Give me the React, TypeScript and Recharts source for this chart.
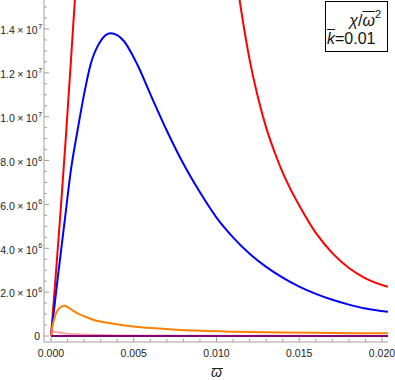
import React from 'react';
import { Line, LineChart, XAxis, YAxis } from 'recharts';

// plot window (omega-bar, chi in units of 1e6)
const X_DOMAIN: [number, number] = [-0.000423, 0.020362];
const Y_DOMAIN: [number, number] = [-0.2736, 15.32];

const xTicks = [
  0, 0.001, 0.002, 0.003, 0.004, 0.005, 0.006, 0.007, 0.008, 0.009, 0.01,
  0.011, 0.012, 0.013, 0.014, 0.015, 0.016, 0.017, 0.018, 0.019, 0.02,
];
const xMajor = [0, 0.005, 0.01, 0.015, 0.02];
const xLabels = ['0.000', '0.005', '0.010', '0.015', '0.020'];

const yTicks = [
  0, 0.5, 1, 1.5, 2, 2.5, 3, 3.5, 4, 4.5, 5, 5.5, 6, 6.5, 7, 7.5, 8, 8.5, 9,
  9.5, 10, 10.5, 11, 11.5, 12, 12.5, 13, 13.5, 14, 14.5, 15,
];
const yMajor = [0, 2, 4, 6, 8, 10, 12, 14];
const yMantissa = ['0', '2.0', '4.0', '6.0', '8.0', '1.0', '1.2', '1.4'];
const yExponent = ['', '6', '6', '6', '6', '7', '7', '7'];

// red
const redW = [
  0, 0.0003, 0.0006, 0.0009, 0.0012, 0.0015, 0.002, 0.003, 0.004, 0.005, 0.006,
  0.007, 0.008, 0.009, 0.01, 0.0105, 0.011, 0.01146, 0.012, 0.0125, 0.013,
  0.0135, 0.014, 0.0145, 0.015, 0.016, 0.017, 0.018, 0.019, 0.02036,
];
const redV = [
  0, 2.9, 5.9, 9.1, 12.5, 16.0, 21.5, 30, 36, 39, 39, 37, 33, 28, 22.8, 20.0,
  17.4, 15.0, 12.6, 10.9, 9.5, 8.4, 7.45, 6.65, 5.95, 4.7, 3.78, 3.1, 2.63, 2.24,
];

// blue
const blueW = [
  0, 0.0004, 0.00083, 0.0012, 0.0016, 0.002, 0.0024, 0.003, 0.0036, 0.0044,
  0.0052, 0.006, 0.007, 0.008, 0.009, 0.01, 0.011, 0.012, 0.013, 0.014, 0.015,
  0.016, 0.017, 0.018, 0.019, 0.02036,
];
const blueV = [
  0, 2.6, 5.27, 7.55, 9.36, 11.03, 12.4, 13.45, 13.8, 13.45, 12.4, 11.03, 9.36,
  7.85, 6.55, 5.4, 4.5, 3.75, 3.15, 2.66, 2.25, 1.92, 1.65, 1.43, 1.25, 1.1,
];

// orange
const orangeW = [
  0, 0.00005, 0.00015, 0.0003, 0.0005, 0.0008, 0.0012, 0.0016, 0.002, 0.0026,
  0.0036, 0.0046, 0.0056, 0.0066, 0.0076, 0.009, 0.0102, 0.011, 0.012, 0.014,
  0.016, 0.018, 0.02036,
];
const orangeV = [
  0, 0.3, 0.65, 1.02, 1.27, 1.38, 1.22, 1.03, 0.9, 0.73, 0.58, 0.47, 0.39, 0.34,
  0.29, 0.245, 0.215, 0.198, 0.182, 0.16, 0.143, 0.13, 0.12,
];

// pink
const pinkW = [0, 0.0001, 0.00018, 0.0004, 0.0008, 0.0016, 0.003, 0.005, 0.008, 0.012, 0.02036];
const pinkV = [0, 0.15, 0.2, 0.17, 0.12, 0.077, 0.045, 0.025, 0.014, 0.009, 0.005];

// purple
const purpleW = [0, 0.005, 0.01, 0.015, 0.02036];
const purpleV = [0, 0, 0, 0, 0];

const toRows = (w: number[], v: number[]) => w.map((x, i) => ({ w: x, v: v[i] }));

const FRAME = '#a0a0a0';
const INK = '#222';
const FONT = '"Liberation Sans", Arial, sans-serif';

const findMajor = (list: number[], v: number) => list.findIndex((m) => Math.abs(m - v) < 1e-9);

function BottomTick(props: any) {
  const { x, y, payload } = props;
  const k = findMajor(xMajor, payload.value);
  return (
    <g>
      <line x1={x} x2={x} y1={y} y2={y - (k >= 0 ? 5 : 3)} stroke={FRAME} />
      {k >= 0 && (
        <text x={x} y={y + 15} textAnchor="middle" fontSize={10.5} fontFamily={FONT} fill={INK}>
          {xLabels[k]}
        </text>
      )}
    </g>
  );
}

function TopTick(props: any) {
  const { x, y, payload } = props;
  const k = findMajor(xMajor, payload.value);
  return <line x1={x} x2={x} y1={y} y2={y + (k >= 0 ? 5 : 3)} stroke={FRAME} />;
}

function LeftTick(props: any) {
  const { x, y, payload } = props;
  const k = findMajor(yMajor, payload.value);
  return (
    <g>
      <line x1={x} x2={x + (k >= 0 ? 5 : 3)} y1={y} y2={y} stroke={FRAME} />
      {k >= 0 && yExponent[k] === '' && (
        <text x={x - 4} y={y + 4} textAnchor="end" fontSize={10.5} fontFamily={FONT} fill={INK}>
          {yMantissa[k]}
        </text>
      )}
      {k >= 0 && yExponent[k] !== '' && (
        <g fontFamily={FONT} fill={INK}>
          <text x={x - 6.3} y={y + 5.3} textAnchor="end" fontSize={10.5}>
            {yMantissa[k]}
            <tspan dx={2.5}>×</tspan>
            <tspan dx={2.5}>10</tspan>
          </text>
          <text x={x - 5.8} y={y} fontSize={7}>
            {yExponent[k]}
          </text>
        </g>
      )}
    </g>
  );
}

function RightTick(props: any) {
  const { x, y, payload } = props;
  const k = findMajor(yMajor, payload.value);
  return <line x1={x} x2={x - (k >= 0 ? 5 : 3)} y1={y} y2={y} stroke={FRAME} />;
}

const series = [
  { key: 'red', rows: toRows(redW, redV), color: '#ff0000', opacity: 1 },
  { key: 'blue', rows: toRows(blueW, blueV), color: '#0000ff', opacity: 1 },
  { key: 'orange', rows: toRows(orangeW, orangeV), color: '#ff8000', opacity: 1 },
  { key: 'pink', rows: toRows(pinkW, pinkV), color: '#ff8080', opacity: 0.75 },
  { key: 'purple', rows: toRows(purpleW, purpleV), color: '#800080', opacity: 1 },
];

export default function App() {
  return (
    <div style={{ position: 'absolute', left: 0, top: 0, width: 395, height: 380, background: '#fff' }}>
      <LineChart width={395} height={380} margin={{ top: 0, right: 7, bottom: 0, left: 0 }}>
        <XAxis
          xAxisId="x"
          dataKey="w"
          type="number"
          domain={X_DOMAIN}
          allowDataOverflow
          ticks={xTicks}
          interval={0}
          height={38}
          tickSize={0}
          tickMargin={0}
          tickLine={false}
          tick={<BottomTick />}
          axisLine={{ stroke: FRAME }}
        />
        <XAxis
          xAxisId="top"
          orientation="top"
          dataKey="w"
          type="number"
          domain={X_DOMAIN}
          allowDataOverflow
          ticks={xTicks}
          interval={0}
          height={0}
          tickSize={0}
          tickMargin={0}
          tickLine={false}
          tick={<TopTick />}
          axisLine={{ stroke: FRAME }}
        />
        <YAxis
          yAxisId="y"
          type="number"
          domain={Y_DOMAIN}
          allowDataOverflow
          ticks={yTicks}
          interval={0}
          width={44}
          tickSize={0}
          tickMargin={0}
          tickLine={false}
          tick={<LeftTick />}
          axisLine={{ stroke: FRAME }}
        />
        <YAxis
          yAxisId="right"
          orientation="right"
          type="number"
          domain={Y_DOMAIN}
          allowDataOverflow
          ticks={yTicks}
          interval={0}
          width={0}
          tickSize={0}
          tickMargin={0}
          tickLine={false}
          tick={<RightTick />}
          axisLine={{ stroke: FRAME }}
        />
        {series.map((s) => (
          <Line
            key={s.key}
            xAxisId="x"
            yAxisId="y"
            data={s.rows}
            dataKey="v"
            type="monotone"
            stroke={s.color}
            strokeOpacity={s.opacity}
            strokeWidth={2}
            dot={false}
            activeDot={false}
            isAnimationActive={false}
          />
        ))}
      </LineChart>

      {/* axis label: omega with a bar */}
      <div
        style={{
          position: 'absolute',
          left: 211,
          top: 365,
          fontFamily: FONT,
          fontStyle: 'italic',
          fontSize: 14,
          lineHeight: '14px',
          color: INK,
        }}
      >
        ω
      </div>
      <div style={{ position: 'absolute', left: 212, top: 368, width: 11, height: 1, background: INK }} />

      {/* legend box */}
      <div
        style={{
          position: 'absolute',
          left: 325,
          top: 1,
          width: 63,
          height: 51,
          boxSizing: 'border-box',
          border: '1.5px solid #000',
          background: '#fff',
          fontFamily: FONT,
          fontSize: 16,
          color: '#111',
        }}
      >
        <div style={{ position: 'absolute', right: 6, top: 11, lineHeight: '16px', whiteSpace: 'nowrap' }}>
          <i>χ</i>/<i style={{ textDecoration: 'overline' }}>ω</i>
          <span style={{ fontSize: 11, position: 'relative', top: -8 }}>2</span>
        </div>
        <div style={{ position: 'absolute', left: 1, top: 29, lineHeight: '16px', whiteSpace: 'nowrap' }}>
          <i style={{ textDecoration: 'overline' }}>k</i>=0.01
        </div>
      </div>
    </div>
  );
}
